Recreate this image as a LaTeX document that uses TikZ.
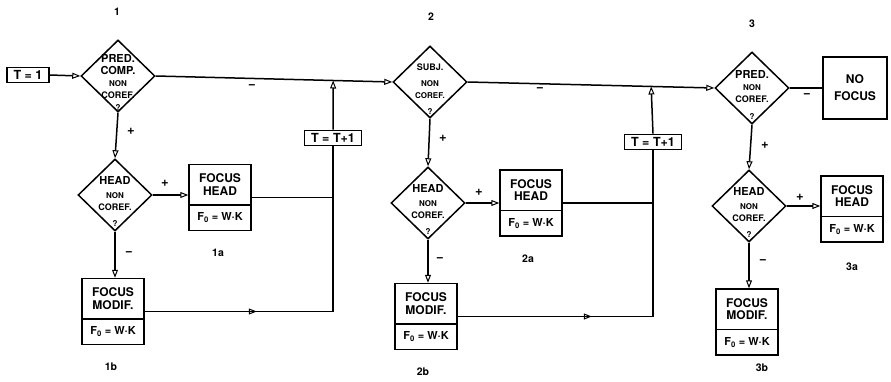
\documentclass[tikz,border=0pt]{standalone}
\usepackage{fontspec}
\setmainfont{TeX Gyre Heros}
\usetikzlibrary{arrows.meta,calc,shapes.geometric,shapes.multipart}
\newcommand\lrg{\fontsize{11}{11}\selectfont}
\newcommand\sml{\fontsize{8}{10}\selectfont}
\newcommand\mdm{\fontsize{9}{10}\selectfont}
\newcommand\focustext[1]{\parbox[c][39pt][c]{62pt}{\centering\fontsize{12}{12.5}\selectfont #1}%
  \nodepart{two}\parbox[c][24pt][c]{62pt}{\centering\fontsize{11}{12}\selectfont F\textsubscript{0} = W·K}}
\begin{document}
\begin{tikzpicture}[x=1pt,y=-1pt,line width=1.5pt,font=\bfseries,
    >={Triangle[open,length=8pt,width=6pt,line width=1pt]},
    dec/.style={draw,diamond,minimum width=74pt,minimum height=72pt,inner sep=0pt},
    dtext/.style={align=center,inner sep=0pt},
    fcsbox/.style={draw,rectangle split,rectangle split parts=2,inner sep=0pt},
    tbox/.style={draw,inner xsep=1.5pt,inner ysep=1pt,line width=1.6pt,minimum height=15pt,font=\bfseries\fontsize{12.5}{12}\selectfont},
    sign/.style={font=\bfseries\fontsize{13}{13}\selectfont},
    num/.style={font=\bfseries\fontsize{10.5}{10}\selectfont}]
    \useasboundingbox (0,0) rectangle (891,382);
    % step 1
    \node[num] (n1) at (117,12) {1};
    \node[tbox,minimum width=42pt] (t1) at (28,75) {T = 1};
    \node[dec] (d1) at (118,76) {};
    \node[dtext,yshift=-6.5pt] (d1t) at (d1) {\lrg PRED.\\\lrg COMP.\\\sml NON\\\mdm COREF.\\\sml ?};
    \node[dec] (h1) at (115,195) {};
    \node[dtext,yshift=-6pt] (h1t) at (h1) {\lrg HEAD\\[2pt]\sml NON\\\mdm COREF.\\[4pt]\sml ?};
    \node[fcsbox] (fh1) at (220,197.5) {\focustext{FOCUS\\HEAD}};
    \node[fcsbox] (fm1) at (113,311.5) {\focustext{FOCUS\\MODIF.}};
    \node[num] (n1a) at (218,253) {1a};
    \node[num] (n1b) at (111,367) {1b};
    \node[tbox,minimum width=57pt] (inc1) at (333,138) {T = T+1};
    % step 2
    \node[num] (n2) at (431,17) {2};
    \node[dec] (d2) at (430,82) {};
    \node[dtext,yshift=-7pt] (d2t) at (d2) {\mdm SUBJ.\\[4pt]\sml NON\\\sml COREF.\\[4pt]\sml ?};
    \node[dec] (h2) at (428,203) {};
    \node[dtext,yshift=-6pt] (h2t) at (h2) {\lrg HEAD\\[2pt]\sml NON\\\mdm COREF.\\[4pt]\sml ?};
    \node[fcsbox] (fh2) at (531,203) {\focustext{FOCUS\\HEAD}};
    \node[fcsbox] (fm2) at (426,316.5) {\focustext{FOCUS\\MODIF.}};
    \node[num] (n2a) at (528,259) {2a};
    \node[num] (n2b) at (423,372) {2b};
    \node[tbox,minimum width=57pt] (inc2) at (653,142) {T = T+1};
    % step 3
    \node[num] (n3) at (752,24) {3};
    \node[dec] (d3) at (752,88) {};
    \node[dtext,yshift=-6.5pt] (d3t) at (d3) {\lrg PRED.\\\sml NON\\\mdm COREF.\\[5pt]\sml ?};
    \node[draw,minimum width=64pt,minimum height=62pt,align=center,font=\bfseries\fontsize{12}{12}\selectfont] (nf) at (855,88) {NO\\[5pt]FOCUS};
    \node[dec] (h3) at (749,206) {};
    \node[dtext,yshift=-6pt] (h3t) at (h3) {\lrg HEAD\\[2pt]\sml NON\\\mdm COREF.\\[4pt]\sml ?};
    \node[fcsbox] (fh3) at (852,209) {\focustext{FOCUS\\HEAD}};
    \node[fcsbox] (fm3) at (747,322) {\focustext{FOCUS\\MODIF.}};
    \node[num] (n3a) at (852,267) {3a};
    \node[num] (n3b) at (762,368) {3b};
    % joins on the main line
    \path (d1.east) -- (d2.west) coordinate[pos=.75] (j1);
    \path (d2.east) -- (d3.west) coordinate[pos=.744] (j2);
    % connectors
    \draw[->] (t1.east) -- (d1.west);
    \draw[->] (d1.east) -- (d2.west);
    \draw[->] (d2.east) -- (d3.west);
    \draw (d3.east) -- (nf.west);
    \draw[->] (d1.south) -- (h1.north);
    \draw[->] (d2.south) -- (h2.north);
    \draw[->] (d3.south) -- (h3.north);
    \draw[->] (h1.east) -- (h1.east -| fh1.west);
    \draw[->] (h2.east) -- (h2.east -| fh2.west);
    \draw[->] (h3.east) -- (h3.east -| fh3.west);
    \draw[->] (h1.south) -- (h1.south |- fm1.north);
    \draw[->] (h2.south) -- (h2.south |- fm2.north);
    \draw[->] (h3.south) -- (h3.south |- fm3.north);
    \draw (fh1.east) -| (inc1.south);
    \draw (fm1.east) -| (inc1.south);
    \draw[->] (fm1.east) -- ++(112,0);
    \draw[->] (inc1.north) -- (j1);
    \draw (fh2.east) -| (inc2.south);
    \draw (fm2.east) -| (inc2.south);
    \draw[->] (fm2.east) -- ++(134,0);
    \draw[->] (inc2.north) -- (j2);
    % signs
    \node[sign] (s1) at (252,87) {−};
    \node[sign] (s2) at (540,90) {−};
    \node[sign] (s3) at (807,96) {−};
    \node[sign] (p1) at (131,131) {+};
    \node[sign] (p2) at (443,138) {+};
    \node[sign] (p3) at (765,145) {+};
    \node[sign] (q1) at (165,183) {+};
    \node[sign] (q2) at (479,192) {+};
    \node[sign] (q3) at (800,197) {+};
    \node[sign] (m1) at (129,254) {−};
    \node[sign] (m2) at (440,260) {−};
    \node[sign] (m3) at (763,262) {−};
\end{tikzpicture}
\end{document}
